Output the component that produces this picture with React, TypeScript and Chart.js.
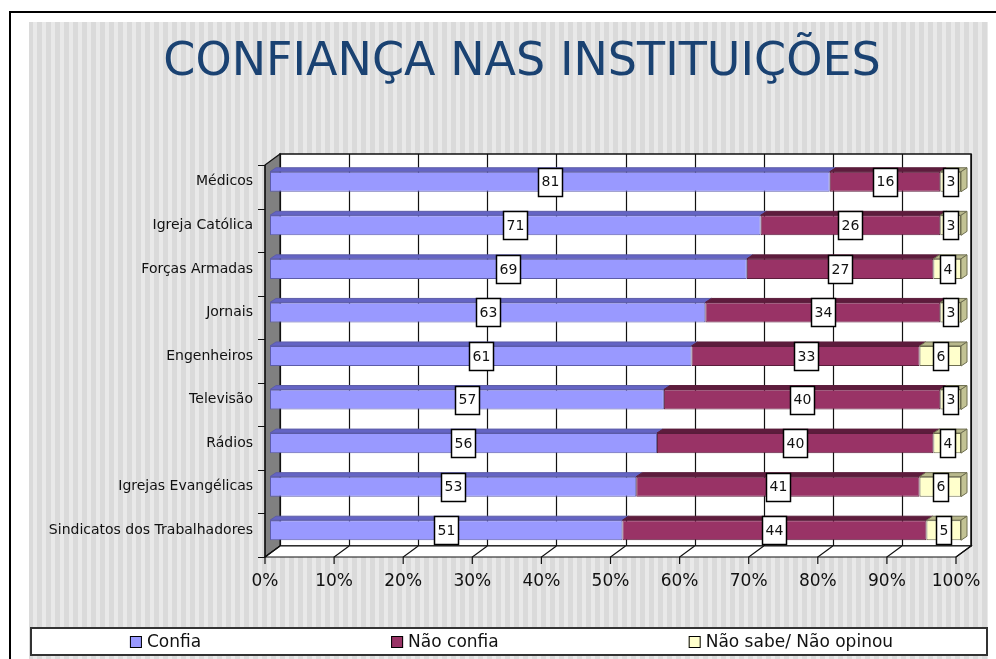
import React, { useEffect, useRef } from 'react';
import { Chart, registerables } from 'chart.js';

Chart.register(...registerables);

const titleText = 'CONFIANÇA NAS INSTITUIÇÕES';
const categories = [
  'Médicos',
  'Igreja Católica',
  'Forças Armadas',
  'Jornais',
  'Engenheiros',
  'Televisão',
  'Rádios',
  'Igrejas Evangélicas',
  'Sindicatos dos Trabalhadores',
];
const seriesNames = ['Confia', 'Não confia', 'Não sabe/ Não opinou'];
const confia = [81, 71, 69, 63, 61, 57, 56, 53, 51];
const naoConfia = [16, 26, 27, 34, 33, 40, 40, 41, 44];
const naoSabe = [3, 3, 4, 3, 6, 3, 4, 6, 5];

const COLORS = [
  { front: '#9999FF', top: '#6464C4', side: '#6F6FD0', border: '#5C5CA8' },
  { front: '#993366', top: '#5E1C3D', side: '#6B2347', border: '#5A1D3B' },
  { front: '#FFFFCC', top: '#B8B88C', side: '#C2C294', border: '#6E6E50' },
];

const FONT = '"DejaVu Sans", Verdana, sans-serif';
const FRONT = { dx: -5, dy: 5 };
const BACK = { dx: 10, dy: -6 };
const BAR_D = { dx: 6, dy: -4 };

const scenePlugin = {
  id: 'scene',
  beforeDraw(chart: any) {
    const { ctx, chartArea: a, scales } = chart;
    const xs = scales.x;
    const ys = scales.y;
    ctx.save();
    ctx.fillStyle = '#ffffff';
    ctx.fillRect(0, 0, chart.width, chart.height);
    // striped background
    const bx0 = 29, bx1 = 988, by0 = 22, by1 = chart.height;
    ctx.fillStyle = '#DADADA';
    ctx.fillRect(bx0, by0, bx1 - bx0, by1 - by0);
    ctx.fillStyle = '#E9E9E9';
    for (let x = bx0 + 4; x < bx1; x += 9) {
      ctx.fillRect(x, by0, Math.min(4, bx1 - x), by1 - by0);
    }
    // frame
    ctx.fillStyle = '#000';
    ctx.fillRect(9, 11, chart.width - 9, 2);
    ctx.fillRect(9, 11, 2, chart.height - 11);

    // title
    ctx.fillStyle = '#1A4272';
    ctx.font = `46px ${FONT}`;
    ctx.textAlign = 'center';
    ctx.textBaseline = 'alphabetic';
    ctx.fillText(titleText, 522, 75);

    const ticks = xs.ticks.map((t: any) => t.value);

    // back wall
    const bl = a.left + BACK.dx, br = a.right + BACK.dx;
    const bt = a.top + BACK.dy, bb = a.bottom + BACK.dy;
    ctx.fillStyle = '#ffffff';
    ctx.fillRect(bl, bt, br - bl, bb - bt);
    ctx.strokeStyle = '#111';
    ctx.lineWidth = 1.2;
    ticks.forEach((v: number) => {
      const px = Math.round(xs.getPixelForValue(v) + BACK.dx) + 0.5;
      ctx.beginPath();
      ctx.moveTo(px, bt);
      ctx.lineTo(px, bb);
      ctx.stroke();
    });
    ctx.lineWidth = 1.5;
    ctx.strokeRect(bl, bt, br - bl, bb - bt);

    // side wall
    const fl = a.left + FRONT.dx;
    const ft = a.top + FRONT.dy, fb = a.bottom + FRONT.dy;
    ctx.beginPath();
    ctx.moveTo(fl, ft);
    ctx.lineTo(bl, bt);
    ctx.lineTo(bl, bb);
    ctx.lineTo(fl, fb);
    ctx.closePath();
    ctx.fillStyle = '#808080';
    ctx.fill();
    ctx.strokeStyle = '#111';
    ctx.lineWidth = 1.2;
    ctx.stroke();

    // floor
    const fr = a.right + FRONT.dx;
    ctx.beginPath();
    ctx.moveTo(fl, fb);
    ctx.lineTo(fr, fb);
    ctx.lineTo(br, bb);
    ctx.lineTo(bl, bb);
    ctx.closePath();
    ctx.fillStyle = '#ffffff';
    ctx.fill();
    ctx.stroke();
    ticks.forEach((v: number) => {
      const p = xs.getPixelForValue(v);
      ctx.beginPath();
      ctx.moveTo(p + BACK.dx, bb);
      ctx.lineTo(p + FRONT.dx, fb);
      ctx.lineTo(p + FRONT.dx, fb + 7);
      ctx.stroke();
    });

    // x tick labels (front plane)
    ctx.fillStyle = '#111';
    ctx.font = `17px ${FONT}`;
    ctx.textAlign = 'center';
    ctx.textBaseline = 'middle';
    ticks.forEach((v: number) => {
      ctx.fillText(v + '%', xs.getPixelForValue(v) + FRONT.dx, fb + 25);
    });

    // y tick marks
    const n = categories.length;
    const band = (a.bottom - a.top) / n;
    ctx.beginPath();
    ctx.moveTo(fl, ft);
    ctx.lineTo(fl, fb);
    for (let k = 0; k <= n; k++) {
      const c = k < n ? ys.getPixelForValue(k) - band / 2 : ys.getPixelForValue(n - 1) + band / 2;
      const y = Math.round(c + FRONT.dy) + 0.5;
      ctx.moveTo(fl - 7, y);
      ctx.lineTo(fl, y);
    }
    ctx.stroke();
    ctx.restore();
  },
  afterDatasetsDraw(chart: any) {
    const { ctx } = chart;
    ctx.save();
    const nd = chart.data.datasets.length;
    for (let d = 0; d < nd; d++) {
      const meta = chart.getDatasetMeta(d);
      const col = COLORS[d];
      meta.data.forEach((el: any) => {
        const left = Math.min(el.base, el.x);
        const right = Math.max(el.base, el.x);
        const top = el.y - el.height / 2;
        const bottom = el.y + el.height / 2;
        ctx.beginPath();
        ctx.moveTo(left, top);
        ctx.lineTo(right, top);
        ctx.lineTo(right + BAR_D.dx, top + BAR_D.dy);
        ctx.lineTo(left + BAR_D.dx, top + BAR_D.dy);
        ctx.closePath();
        ctx.fillStyle = col.top;
        ctx.fill();
        ctx.strokeStyle = col.border;
        ctx.lineWidth = 1;
        ctx.stroke();
        if (d === nd - 1) {
          ctx.beginPath();
          ctx.moveTo(right, top);
          ctx.lineTo(right + BAR_D.dx, top + BAR_D.dy);
          ctx.lineTo(right + BAR_D.dx, bottom + BAR_D.dy);
          ctx.lineTo(right, bottom);
          ctx.closePath();
          ctx.fillStyle = col.side;
          ctx.fill();
          ctx.stroke();
        }
      });
    }
    // data labels
    ctx.font = `14px ${FONT}`;
    ctx.textAlign = 'center';
    ctx.textBaseline = 'middle';
    for (let d = 0; d < nd; d++) {
      const meta = chart.getDatasetMeta(d);
      const values = chart.data.datasets[d].data;
      meta.data.forEach((el: any, i: number) => {
        const txt = String(values[i]);
        const cx = (el.base + el.x) / 2;
        const cy = el.y;
        const w = Math.round(ctx.measureText(txt).width + 6);
        const h = 28;
        const x0 = Math.round(cx - w / 2) + 0.5;
        const y0 = Math.round(cy - h / 2) + 0.5;
        ctx.fillStyle = '#ffffff';
        ctx.fillRect(x0, y0, w, h);
        ctx.strokeStyle = '#000';
        ctx.lineWidth = 1.5;
        ctx.strokeRect(x0, y0, w, h);
        ctx.fillStyle = '#111';
        ctx.fillText(txt, x0 + w / 2, cy + 1);
      });
    }
    ctx.restore();
  },
  afterDraw(chart: any) {
    const { ctx } = chart;
    ctx.save();
    // legend box
    const lx0 = 31, lx1 = 987, ly0 = 628, ly1 = 655;
    ctx.fillStyle = '#ffffff';
    ctx.fillRect(lx0, ly0, lx1 - lx0, ly1 - ly0);
    ctx.strokeStyle = '#333';
    ctx.lineWidth = 2;
    ctx.strokeRect(lx0, ly0, lx1 - lx0, ly1 - ly0);
    ctx.font = `17px ${FONT}`;
    ctx.textAlign = 'left';
    ctx.textBaseline = 'middle';
    const box = 12, gapBox = 5, gap = 190;
    const ds = chart.data.datasets;
    const widths = ds.map((d: any) => box + gapBox + ctx.measureText(d.label).width);
    const total = widths.reduce((s: number, w: number) => s + w, 0) + gap * (ds.length - 1);
    let x = 511.5 - total / 2;
    const cy = 642;
    ds.forEach((d: any, i: number) => {
      ctx.fillStyle = COLORS[i].front;
      ctx.fillRect(x, cy - box / 2, box, box);
      ctx.strokeStyle = '#000';
      ctx.lineWidth = 1;
      ctx.strokeRect(x + 0.5, cy - box / 2 + 0.5, box - 1, box - 1);
      ctx.fillStyle = '#111';
      ctx.fillText(d.label, x + box + gapBox, cy + 1);
      x += widths[i] + gap;
    });
    ctx.restore();
  },
};

export default function App() {
  const ref = useRef<HTMLCanvasElement | null>(null);
  useEffect(() => {
    if (!ref.current) return;
    const chart = new Chart(ref.current, {
      type: 'bar',
      data: {
        labels: categories,
        datasets: [confia, naoConfia, naoSabe].map((arr, i) => ({
          label: seriesNames[i],
          data: arr,
          backgroundColor: COLORS[i].front,
          borderColor: COLORS[i].border,
          borderWidth: 1,
          borderSkipped: false,
          categoryPercentage: 1,
          barPercentage: 0.46,
        })),
      },
      options: {
        indexAxis: 'y',
        responsive: false,
        animation: false,
        devicePixelRatio: 1,
        layout: { padding: { left: 30, right: 35, top: 160, bottom: 67 } },
        plugins: {
          legend: { display: false },
          title: { display: false },
          tooltip: { enabled: false },
        },
        scales: {
          x: {
            stacked: true,
            min: 0,
            max: 100,
            ticks: { stepSize: 10, display: false, autoSkip: false },
            grid: { display: false, drawTicks: false },
            border: { display: false },
            afterFit: (s: any) => {
              s.height = 40;
            },
          },
          y: {
            stacked: true,
            ticks: {
              padding: 17,
              font: { family: FONT, size: 14 },
              color: '#111',
              autoSkip: false,
            },
            grid: { display: false, drawTicks: false },
            border: { display: false },
            afterFit: (s: any) => {
              s.width = 240;
            },
          },
        },
      } as any,
      plugins: [scenePlugin],
    });
    return () => chart.destroy();
  }, []);
  return (
    <div style={{ position: 'fixed', left: 0, top: 0, width: 996, height: 659 }}>
      <canvas ref={ref} width={996} height={659} style={{ display: 'block', width: 996, height: 659 }} />
    </div>
  );
}
